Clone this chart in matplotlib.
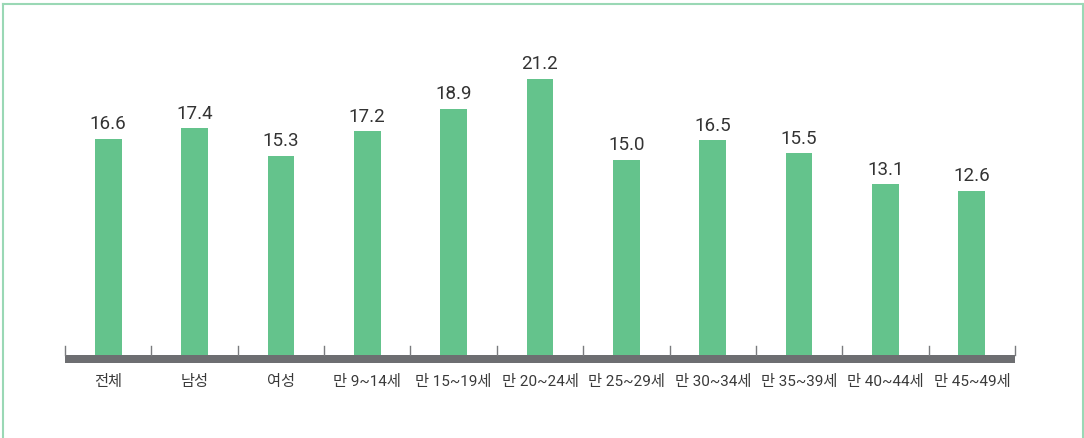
import matplotlib
matplotlib.use("Agg")
import matplotlib.pyplot as plt
from matplotlib.patches import Rectangle
from matplotlib.lines import Line2D

# Data
categories = ["전체", "남성", "여성", "만 9~14세", "만 15~19세", "만 20~24세",
              "만 25~29세", "만 30~34세", "만 35~39세", "만 40~44세", "만 45~49세"]
values = [16.6, 17.4, 15.3, 17.2, 18.9, 21.2, 15.0, 16.5, 15.5, 13.1, 12.6]

BAR_COLOR = "#64C38C"
AXIS_COLOR = "#6D6E71"
BORDER_COLOR = "#9AD8B5"
TEXT_COLOR = "#333333"
FONTS = ["Roboto", "Noto Sans CJK KR", "DejaVu Sans"]

W, H = 1084, 438
fig = plt.figure(figsize=(W / 100, H / 100), dpi=100)

# plot area in pixels: x 65..1015, baseline at y=355
left, right, base, top = 65, 1015, 355, 42
ax = fig.add_axes([left / W, (H - base) / H, (right - left) / W, (base - top) / H])
n = len(categories)
x = list(range(n))
ax.bar(x, values, width=0.31, color=BAR_COLOR, zorder=2)
ax.set_xlim(-0.5, n - 0.5)
px_per_unit = 13.02
ax.set_ylim(0, (base - top) / px_per_unit)

for xi, v in zip(x, values):
    ax.annotate(f"{v:.1f}", (xi, v), xytext=(0, 4), textcoords="offset points",
                ha="center", va="bottom", fontsize=13.5, family=FONTS,
                color=TEXT_COLOR)

# thick axis bar below the baseline
bar_h = 8 / (base - top)
ax.add_patch(Rectangle((-0.5, -bar_h), n, bar_h, transform=ax.get_xaxis_transform(),
                       color=AXIS_COLOR, clip_on=False, lw=0))
# small upward ticks at category boundaries
for b in range(n + 1):
    ax.plot([b - 0.5, b - 0.5], [0, 9 / px_per_unit], color="#7A7B7E", lw=1.0,
            clip_on=False, zorder=1)

for xi, lab in zip(x, categories):
    ax.text(xi, -27 / (base - top), lab, transform=ax.get_xaxis_transform(),
            ha="center", va="center", fontsize=11, family=FONTS, color="#3A3A3A")

for s in ax.spines.values():
    s.set_visible(False)
ax.set_xticks([])
ax.set_yticks([])

# light green frame
fig.add_artist(Line2D([3 / W, 1083 / W], [1 - 4 / H, 1 - 4 / H], color=BORDER_COLOR, lw=1.5))
fig.add_artist(Line2D([3 / W, 3 / W], [0, 1 - 4 / H], color=BORDER_COLOR, lw=1.5))
fig.add_artist(Line2D([1083 / W, 1083 / W], [0, 1 - 4 / H], color=BORDER_COLOR, lw=1.5))

fig.savefig("out.png", dpi=100)
